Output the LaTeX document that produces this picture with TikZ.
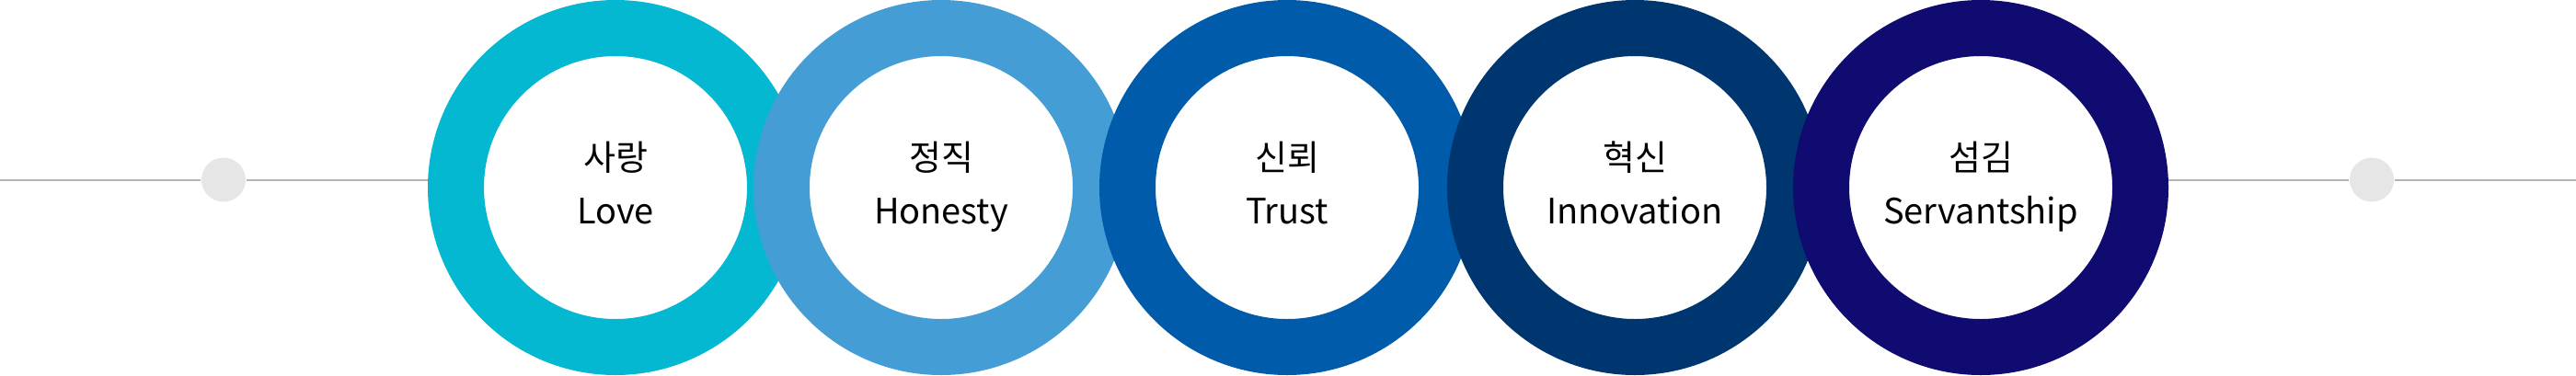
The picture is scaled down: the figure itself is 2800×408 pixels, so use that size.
\documentclass[tikz,border=0pt]{standalone}
\usepackage{fontspec}
\setmainfont{Noto Sans CJK KR}
\usetikzlibrary{backgrounds,calc}

\definecolor{ringA}{HTML}{03B8D0}
\definecolor{ringB}{HTML}{459DD6}
\definecolor{ringC}{HTML}{005BAB}
\definecolor{ringD}{HTML}{00366F}
\definecolor{ringE}{HTML}{0F0B71}
\definecolor{dotgray}{HTML}{E6E6E6}
\definecolor{linegray}{HTML}{B4B4B4}

\begin{document}
\begin{tikzpicture}[x=0.01cm, y=0.01cm,
  ring/.style={circle, line width=61*0.01cm, minimum size=347*0.01cm, fill=white, inner sep=0pt},
  enddot/.style={circle, fill=dotgray, minimum size=48*0.01cm, inner sep=0pt},
  krlabel/.style={font=\fontsize{10.8}{13}\selectfont, inner sep=0pt},
  enlabel/.style={font=\fontsize{10.8}{13}\selectfont, inner sep=0pt, anchor=base}]
\useasboundingbox (0,0) rectangle (2800,408);

% rings, each one laid over the previous one
\foreach \name/\x/\col/\kr/\en in {r1/669/ringA/사랑/Love, r2/1023/ringB/정직/Honesty,
    r3/1399/ringC/신뢰/Trust, r4/1777/ringD/혁신/Innovation, r5/2153/ringE/섬김/Servantship} {
  \node[ring, draw=\col] (\name) at (\x,204) {};
  \node[krlabel] (\name-kr) at ($(\name)+(0,33)$) {\kr};
  \node[enlabel] (\name-en) at ($(\name)+(0,-39)$) {\en};
}

% end dots
\node[enddot] (dotL) at (243,212.5) {};
\node[enddot] (dotR) at (2578,212.5) {};
\coordinate (edgeL) at (0,212.5);
\coordinate (edgeR) at (2800,212.5);

\begin{scope}[on background layer]
  \draw[linegray, line width=2*0.01cm] (edgeL) -- (dotL) -- (r1.center |- dotL);
  \draw[linegray, line width=2*0.01cm] (r5.center |- dotR) -- (dotR) -- (edgeR);
\end{scope}
\end{tikzpicture}
\end{document}
